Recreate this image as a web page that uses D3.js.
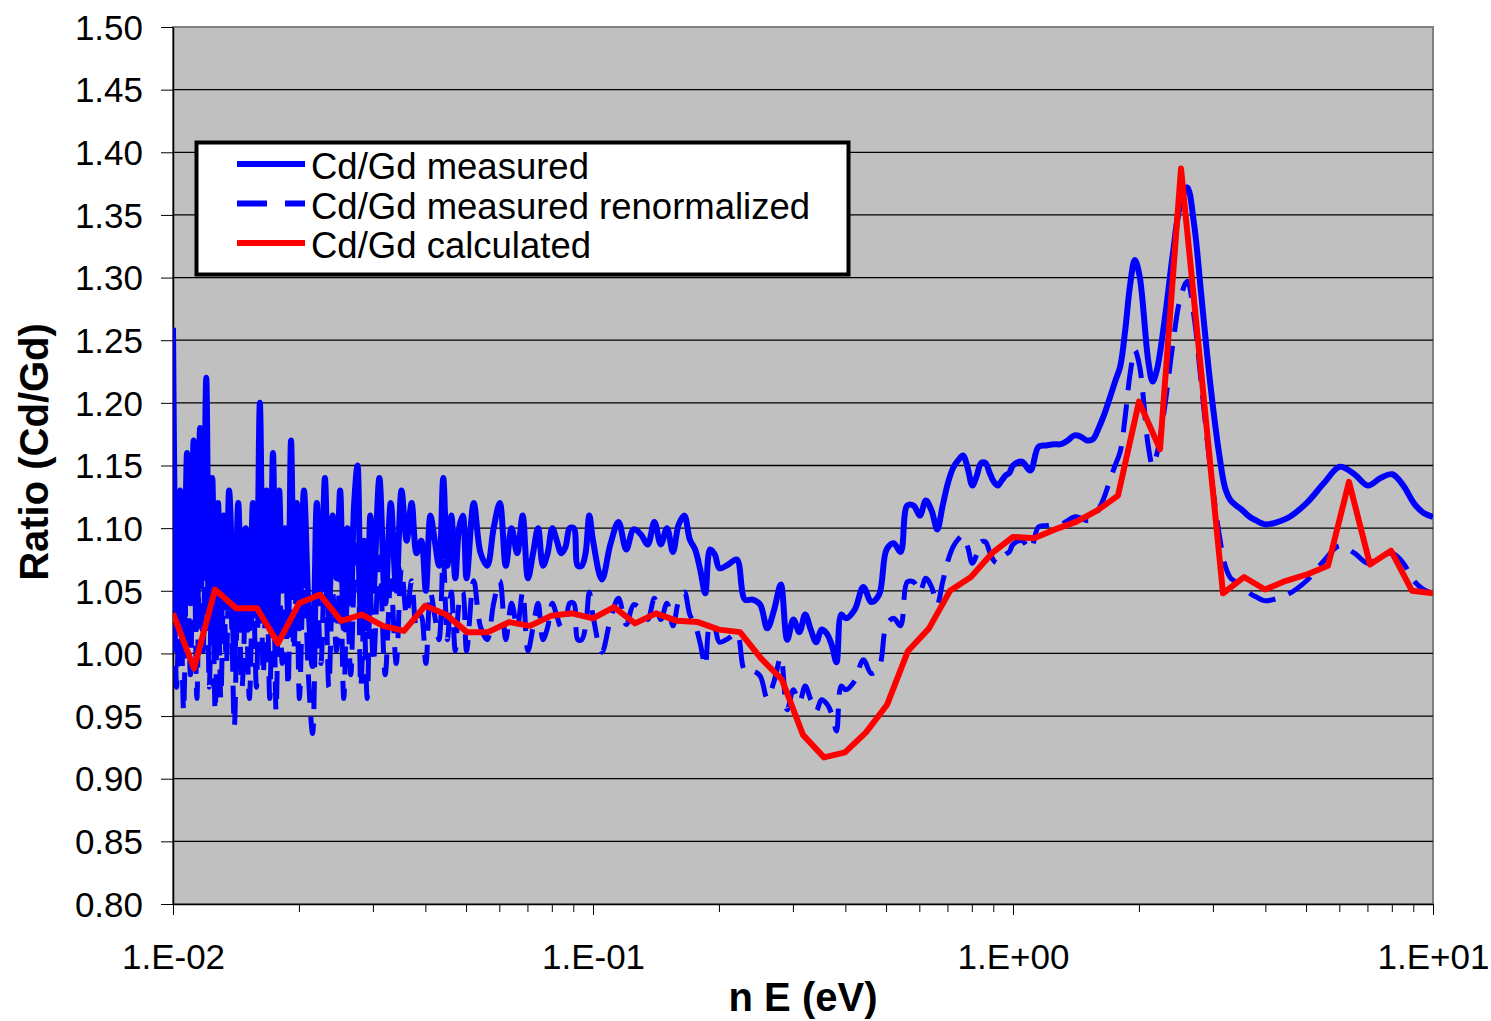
<!DOCTYPE html>
<html>
<head>
<meta charset="utf-8">
<script src="https://cdn.jsdelivr.net/npm/d3@7"></script>
<style>
  body { margin: 0; background: #fff; }
  svg { display: block; }
  text { font-family: Arial, "Liberation Sans", sans-serif; fill: #000; }
</style>
</head>
<body>
<svg id="chart" width="1491" height="1021"></svg>
<script>
// axis ticks
var yTicks = [0.80, 0.85, 0.90, 0.95, 1.00, 1.05, 1.10, 1.15, 1.20, 1.25, 1.30, 1.35, 1.40, 1.45, 1.50];
var xTicks = [0.01, 0.1, 1, 10];
var xTickLabels = ["1.E-02", "1.E-01", "1.E+00", "1.E+01"];
var seriesNames = ["Cd/Gd measured", "Cd/Gd measured renormalized", "Cd/Gd calculated"];

// measured energies (eV)
var measE = [
  0.0100, 0.0102, 0.0104, 0.0106, 0.0108, 0.0110, 0.0112, 0.0114, 0.0116, 0.0118, 0.0120, 0.0122, 0.0124, 0.0126, 0.0128, 0.0130, 0.0132, 0.0134, 0.0136, 0.0138, 0.0140,
  0.0143, 0.0146, 0.0149, 0.0152, 0.0155, 0.0158, 0.0161, 0.0164, 0.0167, 0.0170, 0.0173, 0.0176, 0.0179, 0.0182, 0.0185, 0.0188, 0.0191, 0.0194, 0.0197, 0.0200,
  0.0205, 0.0210, 0.0215, 0.0220, 0.0225, 0.0230, 0.0235, 0.0240, 0.0245, 0.0250, 0.0255, 0.0260, 0.0265, 0.0270, 0.0275, 0.0280, 0.0285, 0.0290, 0.0295, 0.0300,
  0.031, 0.032, 0.033, 0.034, 0.035, 0.036, 0.037, 0.038, 0.039, 0.040, 0.041, 0.042, 0.043, 0.044, 0.045, 0.046, 0.047, 0.048, 0.049, 0.050,
  0.052, 0.054, 0.056, 0.058, 0.060, 0.062, 0.064, 0.066, 0.068, 0.070, 0.072, 0.074, 0.076, 0.078, 0.080, 0.082, 0.084, 0.086, 0.088, 0.090, 0.092, 0.094, 0.096, 0.098, 0.100,
  0.105, 0.110, 0.115, 0.120, 0.125, 0.130, 0.135, 0.140, 0.145, 0.150, 0.155, 0.160, 0.165, 0.170, 0.175, 0.180, 0.185, 0.190, 0.195, 0.200,
  0.21, 0.22, 0.23, 0.24, 0.25, 0.26, 0.27, 0.28, 0.29, 0.30, 0.31, 0.32, 0.33, 0.34, 0.35, 0.36, 0.37, 0.38, 0.39, 0.40,
  0.42, 0.44, 0.46, 0.48, 0.50, 0.52, 0.54, 0.56, 0.58, 0.60, 0.62, 0.64, 0.66, 0.68, 0.70, 0.72, 0.74, 0.76, 0.78, 0.80, 0.82, 0.84, 0.86, 0.88, 0.90, 0.92, 0.94, 0.96, 0.98, 1.00,
  1.05, 1.10, 1.15, 1.20, 1.25, 1.30, 1.35, 1.40, 1.45, 1.50, 1.55, 1.60, 1.65, 1.70, 1.75, 1.80, 1.85, 1.90, 1.95, 2.00,
  2.1, 2.15, 2.2, 2.3, 2.4, 2.5, 2.6, 2.7, 2.8, 2.9, 3.0, 3.1, 3.2, 3.3, 3.4, 3.5, 3.6, 3.7, 3.8, 3.9, 4.0,
  4.5, 5.0, 5.5, 6.0, 6.5, 7.0, 7.5, 8.0, 8.5, 9.0, 9.5, 10.0
];

var measured = [
  1.26, 1.03, 1.13, 1.01, 1.16, 1.04, 1.17, 1.02, 1.18, 1.06, 1.22, 1.03, 1.14, 1.01, 1.12, 1.02, 1.11, 1.05, 1.13, 1.08, 0.997,
  1.12, 1.03, 1.10, 1.02, 1.12, 1.03, 1.20, 1.04, 1.13, 1.02, 1.16, 1.01, 1.13, 1.05, 1.10, 1.03, 1.17, 1.06, 1.12, 1.02,
  1.13, 1.04, 0.99, 1.12, 1.05, 1.14, 1.03, 1.11, 1.06, 1.13, 1.02, 1.10, 1.04, 1.12, 1.15, 1.03, 1.09, 1.02, 1.11, 1.05,
  1.14, 1.04, 1.12, 1.05, 1.13, 1.09, 1.12, 1.08, 1.09, 1.05, 1.11, 1.09, 1.07, 1.14, 1.07, 1.11, 1.06, 1.10, 1.11, 1.06,
  1.12, 1.08, 1.07, 1.10, 1.12, 1.07, 1.10, 1.08, 1.11, 1.06, 1.08, 1.10, 1.07, 1.08, 1.10, 1.09, 1.08, 1.085, 1.10, 1.10, 1.07, 1.07, 1.08, 1.11, 1.09,
  1.059, 1.087, 1.105, 1.083, 1.099, 1.095, 1.087, 1.105, 1.087, 1.100, 1.081, 1.103, 1.110, 1.091, 1.083, 1.067, 1.048, 1.083, 1.079, 1.068,
  1.071, 1.075, 1.043, 1.043, 1.039, 1.020, 1.035, 1.055, 1.011, 1.027, 1.017, 1.031, 1.019, 1.009, 1.019, 1.016, 1.007, 0.993, 1.031, 1.028,
  1.035, 1.053, 1.041, 1.047, 1.083, 1.088, 1.081, 1.118, 1.118, 1.110, 1.122, 1.114, 1.099, 1.118, 1.136, 1.148, 1.154, 1.158, 1.148, 1.134, 1.142, 1.152, 1.152, 1.144, 1.137, 1.134, 1.138, 1.142, 1.144, 1.150,
  1.153, 1.146, 1.165, 1.166, 1.167, 1.167, 1.170, 1.174, 1.173, 1.170, 1.171, 1.180, 1.191, 1.204, 1.217, 1.229, 1.258, 1.294, 1.314, 1.302,
  1.233, 1.217, 1.226, 1.268, 1.318, 1.358, 1.372, 1.342, 1.290, 1.238, 1.194, 1.158, 1.132, 1.122, 1.118, 1.115, 1.111, 1.108, 1.106, 1.104, 1.103,
  1.108, 1.120, 1.136, 1.149, 1.143, 1.134, 1.140, 1.143, 1.134, 1.120, 1.112, 1.109
];

var renormalized = [
  1.191, 0.973, 1.068, 0.954, 1.096, 0.983, 1.106, 0.964, 1.115, 1.002, 1.153, 0.973, 1.077, 0.954, 1.058, 0.964, 1.049, 0.992, 1.068, 1.021, 0.942,
  1.058, 0.973, 1.040, 0.964, 1.058, 0.973, 1.134, 0.983, 1.068, 0.964, 1.096, 0.954, 1.068, 0.992, 1.040, 0.973, 1.106, 1.002, 1.058, 0.964,
  1.068, 0.983, 0.936, 1.058, 0.992, 1.077, 0.973, 1.049, 1.002, 1.068, 0.964, 1.040, 0.983, 1.058, 1.087, 0.973, 1.030, 0.964, 1.049, 0.992,
  1.077, 0.983, 1.058, 0.992, 1.068, 1.030, 1.058, 1.021, 1.030, 0.992, 1.049, 1.030, 1.011, 1.077, 1.011, 1.049, 1.002, 1.040, 1.049, 1.002,
  1.058, 1.021, 1.011, 1.040, 1.058, 1.011, 1.040, 1.021, 1.049, 1.002, 1.021, 1.040, 1.011, 1.021, 1.040, 1.030, 1.021, 1.025, 1.040, 1.040, 1.011, 1.011, 1.021, 1.049, 1.030,
  1.001, 1.027, 1.044, 1.023, 1.039, 1.035, 1.027, 1.044, 1.027, 1.040, 1.022, 1.042, 1.049, 1.031, 1.023, 1.008, 0.990, 1.023, 1.020, 1.009,
  1.012, 1.016, 0.986, 0.986, 0.982, 0.964, 0.978, 0.997, 0.955, 0.971, 0.961, 0.974, 0.963, 0.954, 0.963, 0.960, 0.952, 0.938, 0.974, 0.971,
  0.978, 0.995, 0.984, 0.989, 1.023, 1.028, 1.022, 1.057, 1.057, 1.049, 1.060, 1.053, 1.039, 1.057, 1.074, 1.085, 1.091, 1.094, 1.085, 1.072, 1.079, 1.089, 1.089, 1.081, 1.074, 1.072, 1.075, 1.079, 1.081, 1.087,
  1.090, 1.083, 1.101, 1.102, 1.103, 1.103, 1.106, 1.109, 1.108, 1.106, 1.107, 1.115, 1.125, 1.138, 1.150, 1.161, 1.189, 1.223, 1.242, 1.230,
  1.165, 1.150, 1.159, 1.198, 1.246, 1.283, 1.297, 1.268, 1.219, 1.170, 1.128, 1.094, 1.070, 1.060, 1.057, 1.054, 1.050, 1.047, 1.045, 1.043, 1.042,
  1.047, 1.058, 1.074, 1.086, 1.080, 1.072, 1.077, 1.080, 1.072, 1.058, 1.051, 1.048
];

// calculated (group energies, eV)
var calcE = [
  0.01, 0.01122, 0.01259, 0.01413, 0.01585, 0.01778, 0.01995, 0.02239, 0.02512, 0.02818,
  0.03162, 0.03548, 0.03981, 0.04467, 0.05012, 0.05623, 0.06310, 0.07079, 0.07943, 0.08913,
  0.1, 0.1122, 0.1259, 0.1413, 0.1585, 0.1778, 0.1995, 0.2239, 0.2512, 0.2818,
  0.3162, 0.3548, 0.3981, 0.4467, 0.5012, 0.5623, 0.6310, 0.7079, 0.7943, 0.8913,
  1, 1.122, 1.259, 1.413, 1.585, 1.778, 1.995, 2.239, 2.512, 2.818,
  3.162, 3.548, 3.981, 4.467, 5.012, 5.623, 6.310, 7.079, 7.943, 8.913, 10
];
var calculated = [
  1.032, 0.988, 1.051, 1.036, 1.036, 1.008, 1.040, 1.047, 1.026, 1.031,
  1.022, 1.018, 1.038, 1.031, 1.017, 1.017, 1.025, 1.022, 1.030, 1.032,
  1.028, 1.037, 1.024, 1.032, 1.026, 1.025, 1.019, 1.017, 0.996, 0.979,
  0.935, 0.917, 0.921, 0.937, 0.959, 1.002, 1.020, 1.050, 1.061, 1.080,
  1.093, 1.092, 1.099, 1.105, 1.114, 1.126, 1.201, 1.163, 1.387, 1.218,
  1.048, 1.061, 1.051, 1.058, 1.063, 1.070, 1.137, 1.071, 1.082, 1.050, 1.048
];

var svg = d3.select('#chart');
var plotL = 173, plotR = 1433, plotT = 27, plotB = 904;

var x = d3.scaleLog().domain([0.01, 10]).range([plotL, plotR]);
var y = d3.scaleLinear().domain([0.80, 1.50]).range([plotB, plotT]);

// plot area
svg.append('rect')
    .attr('x', plotL).attr('y', plotT)
    .attr('width', plotR - plotL).attr('height', plotB - plotT)
    .style('fill', '#c0c0c0')
    .style('stroke', '#808080')
    .style('stroke-width', 2);

// gridlines
svg.append('g').selectAll('line')
    .data(yTicks.slice(1, -1))
    .enter().append('line')
    .attr('x1', plotL).attr('x2', plotR)
    .attr('y1', function (d) { return y(d); })
    .attr('y2', function (d) { return y(d); })
    .style('stroke', '#000')
    .style('stroke-width', 1.3);

// y axis
var yAxis = svg.append('g')
    .attr('transform', 'translate(' + plotL + ',0)')
    .call(d3.axisLeft(y).tickValues(yTicks).tickFormat(d3.format('.2f'))
        .tickSize(12).tickSizeOuter(0).tickPadding(18));
yAxis.selectAll('text').style('font-size', '35px').attr('dy', '0.35em');

// x axis (major + minor ticks)
var xAxis = svg.append('g')
    .attr('transform', 'translate(0,' + plotB + ')')
    .call(d3.axisBottom(x).tickValues(xTicks)
        .tickFormat(function (d, i) { return xTickLabels[i]; })
        .tickSize(11).tickSizeOuter(0).tickPadding(29));
xAxis.selectAll('text').style('font-size', '35px');
xAxis.append('g').selectAll('line')
    .data(x.ticks().filter(function (d) { return xTicks.indexOf(d) < 0; }))
    .enter().append('line')
    .attr('x1', function (d) { return x(d); })
    .attr('x2', function (d) { return x(d); })
    .attr('y1', 0).attr('y2', 8)
    .style('stroke', '#000');
svg.selectAll('.domain').style('stroke', '#000').style('stroke-width', 1.5);

// series
svg.append('clipPath').attr('id', 'plotclip')
    .append('rect').attr('x', plotL).attr('y', plotT)
    .attr('width', plotR - plotL).attr('height', plotB - plotT);
var lines = svg.append('g').attr('clip-path', 'url(#plotclip)');

var smooth = d3.line()
    .x(function (d) { return x(d[0]); })
    .y(function (d) { return y(d[1]); })
    .curve(d3.curveCatmullRom.alpha(0.5));
var straight = d3.line()
    .x(function (d) { return x(d[0]); })
    .y(function (d) { return y(d[1]); });

lines.append('path')
    .datum(d3.zip(measE, measured))
    .attr('d', smooth)
    .style('fill', 'none').style('stroke', '#0000ff')
    .style('stroke-width', 6).style('stroke-linejoin', 'round');

lines.append('path')
    .datum(d3.zip(measE, renormalized))
    .attr('d', smooth)
    .style('fill', 'none').style('stroke', '#0000ff')
    .style('stroke-width', 5).style('stroke-dasharray', '28,14');

lines.append('path')
    .datum(d3.zip(calcE, calculated))
    .attr('d', straight)
    .style('fill', 'none').style('stroke', '#ff0000')
    .style('stroke-width', 6).style('stroke-linejoin', 'round');

// legend
var legend = svg.append('g');
legend.append('rect')
    .attr('x', 196.5).attr('y', 142.5)
    .attr('width', 652).attr('height', 132)
    .style('fill', '#fff').style('stroke', '#000').style('stroke-width', 4);
var legendStyles = [
    { color: '#0000ff', dash: null },
    { color: '#0000ff', dash: '30,18' },
    { color: '#ff0000', dash: null }
];
var rows = legend.selectAll('.legend-row')
    .data(seriesNames)
    .enter().append('g')
    .attr('class', 'legend-row')
    .attr('transform', function (d, i) { return 'translate(0,' + (164 + i * 39.5) + ')'; });
rows.append('line')
    .attr('x1', 237).attr('x2', 305)
    .style('stroke', function (d, i) { return legendStyles[i].color; })
    .style('stroke-width', 6)
    .style('stroke-dasharray', function (d, i) { return legendStyles[i].dash; });
rows.append('text')
    .attr('x', 311).attr('y', 15)
    .style('font-size', '36.5px')
    .text(function (d) { return d; });

// titles
svg.append('text')
    .attr('x', (plotL + plotR) / 2).attr('y', 1011)
    .attr('text-anchor', 'middle')
    .style('font-size', '40px').style('font-weight', 'bold')
    .text('n E (eV)');
svg.append('text')
    .attr('transform', 'translate(48,452) rotate(-90)')
    .attr('text-anchor', 'middle')
    .style('font-size', '40px').style('font-weight', 'bold')
    .text('Ratio (Cd/Gd)');
</script>
</body>
</html>
